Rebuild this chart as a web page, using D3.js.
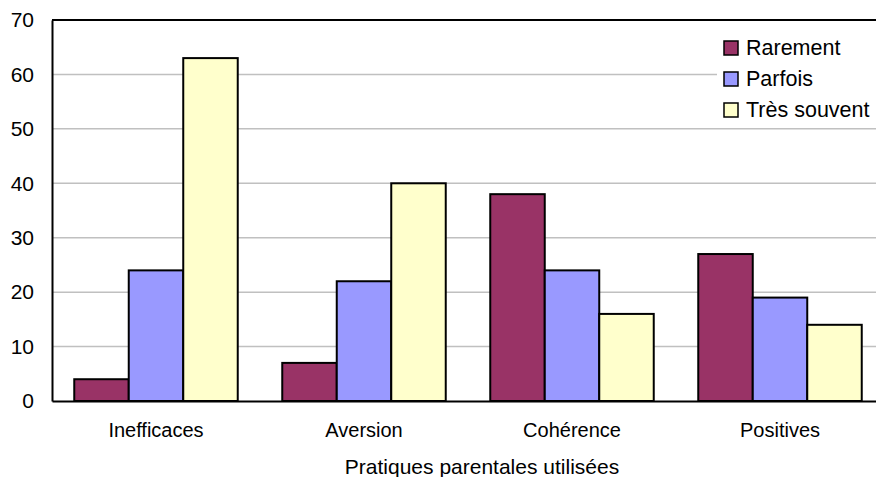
<!DOCTYPE html>
<html>
<head>
<meta charset="utf-8">
<script src="https://cdn.jsdelivr.net/npm/d3@7"></script>
<style>
  body { margin: 0; background: #fff; }
  svg { display: block; font-family: "Liberation Sans", Arial, sans-serif; }
</style>
</head>
<body>
<div class="chart"></div>
<script>
"use strict";

// Data
var categories = ["Inefficaces", "Aversion", "Cohérence", "Positives"];
var seriesNames = ["Rarement", "Parfois", "Très souvent"];
var rarement = [4, 7, 38, 27];
var parfois = [24, 22, 24, 19];
var tresSouvent = [63, 40, 16, 14];
var yTicks = [0, 10, 20, 30, 40, 50, 60, 70];
var xTitle = "Pratiques parentales utilisées";

var seriesValues = [rarement, parfois, tresSouvent];
var colors = ["#993366", "#9999ff", "#ffffcc"];

var width = 876;
var height = 477;
var margin = { top: 20, right: -8, bottom: 76, left: 52 };
var innerW = width - margin.left - margin.right;
var innerH = height - margin.top - margin.bottom;

var svg = d3.select(".chart").append("svg")
    .attr("width", width)
    .attr("height", height);

var g = svg.append("g")
    .attr("transform", "translate(" + margin.left + "," + margin.top + ")");

var x0 = d3.scaleBand().domain(categories).range([0, innerW]).paddingInner(0.214).paddingOuter(0.107);
var x1 = d3.scaleBand().domain(seriesNames).range([0, x0.bandwidth()]);
var y = d3.scaleLinear().domain([0, 70]).range([innerH, 0]);

// Gridlines
g.selectAll(".grid")
    .data(yTicks.slice(1, -1))
    .enter().append("line")
    .attr("x1", 0)
    .attr("x2", innerW)
    .attr("y1", function (d) { return y(d); })
    .attr("y2", function (d) { return y(d); })
    .style("stroke", "#c0c0c0")
    .style("stroke-width", 1.5);

// Top border
g.append("line")
    .attr("x1", 0).attr("x2", innerW)
    .attr("y1", y(70)).attr("y2", y(70))
    .style("stroke", "#000").style("stroke-width", 2);

// Bars
var groups = g.selectAll(".group")
    .data(categories)
    .enter().append("g")
    .attr("transform", function (d) { return "translate(" + x0(d) + ",0)"; });

groups.selectAll("rect")
    .data(function (d, i) {
        return seriesNames.map(function (s, j) { return { name: s, value: seriesValues[j][i], color: colors[j] }; });
    })
    .enter().append("rect")
    .attr("x", function (d) { return x1(d.name); })
    .attr("y", function (d) { return y(d.value); })
    .attr("width", x1.bandwidth())
    .attr("height", function (d) { return innerH - y(d.value); })
    .style("fill", function (d) { return d.color; })
    .style("stroke", "#000")
    .style("stroke-width", 2);

// Y axis
var yAxis = g.append("g")
    .call(d3.axisLeft(y).tickValues(yTicks).tickSize(0).tickPadding(18));
yAxis.select(".domain").style("stroke", "#000").style("stroke-width", 2);
yAxis.selectAll("text")
    .style("font-size", "21px")
    .style("font-family", "Liberation Sans, Arial, sans-serif")
    .style("fill", "#000");

// X axis
var xAxis = g.append("g")
    .attr("transform", "translate(0," + innerH + ")")
    .call(d3.axisBottom(x0).tickSize(0).tickPadding(22));
xAxis.select(".domain").style("stroke", "#000").style("stroke-width", 2);
xAxis.selectAll("text")
    .style("font-size", "20px")
    .style("font-family", "Liberation Sans, Arial, sans-serif")
    .style("fill", "#000");

// X title
svg.append("text")
    .attr("x", 482)
    .attr("y", 474)
    .attr("text-anchor", "middle")
    .style("font-size", "21px")
    .style("fill", "#000")
    .text(xTitle);

// Legend
var legend = svg.append("g").attr("transform", "translate(717,22)");
legend.append("rect")
    .attr("x", 0).attr("y", 0)
    .attr("width", 170).attr("height", 105)
    .style("fill", "#fff");

var items = legend.selectAll(".item")
    .data(seriesNames)
    .enter().append("g")
    .attr("transform", function (d, i) { return "translate(7," + (19 + i * 31) + ")"; });

items.append("rect")
    .attr("x", 0).attr("y", 0)
    .attr("width", 14).attr("height", 14)
    .style("fill", function (d, i) { return colors[i]; })
    .style("stroke", "#000")
    .style("stroke-width", 1.5);

items.append("text")
    .attr("x", 22)
    .attr("y", 14)
    .style("font-size", "21.5px")
    .style("fill", "#000")
    .text(function (d) { return d; });
</script>
</body>
</html>
